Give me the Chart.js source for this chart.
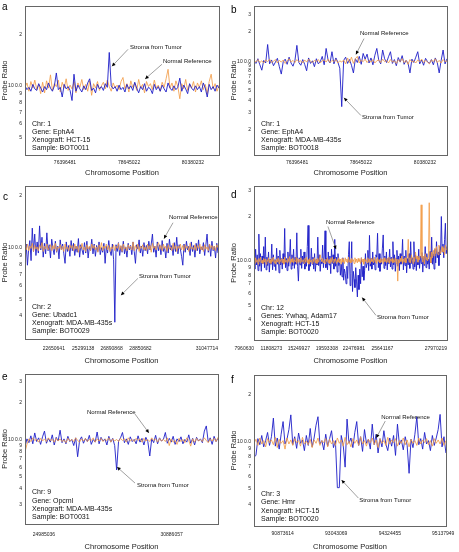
<!DOCTYPE html>
<html>
<head>
<meta charset="utf-8">
<script src="https://cdn.jsdelivr.net/npm/chart.js@4.4.1/dist/chart.umd.min.js"></script>
<style>
  body { margin: 0; background: #fff; }
  .panel { position: absolute; }
</style>
</head>
<body>
<div class="panel" style="left:0;top:0"><canvas id="chartA" width="229" height="180"></canvas></div>
<div class="panel" style="left:229px;top:0"><canvas id="chartB" width="230" height="180"></canvas></div>
<div class="panel" style="left:0;top:180px"><canvas id="chartC" width="229" height="185"></canvas></div>
<div class="panel" style="left:229px;top:180px"><canvas id="chartD" width="230" height="185"></canvas></div>
<div class="panel" style="left:0;top:365px"><canvas id="chartE" width="229" height="187"></canvas></div>
<div class="panel" style="left:229px;top:365px"><canvas id="chartF" width="230" height="187"></canvas></div>
<script>
// probe ratios, tumour (blue) and normal reference (orange), one value per probe
const tumorA = [
  1.00,0.95,0.98,0.93,1.02,0.96,0.94,1.03,0.97,0.92, 0.99,0.95,1.04,0.97,0.93,1.00,1.19,0.95,0.98,0.86,
  1.02,0.96,0.99,0.94,0.82,1.17,0.93,1.01,0.96,0.92, 1.00,0.95,1.04,1.10,0.94,0.97,0.91,1.02,0.96,0.99,
  0.94,1.03,0.98,1.57,1.00,0.96,0.99,0.93,1.01,0.95, 0.98,0.92,1.02,0.96,1.00,0.94,1.05,0.97,0.91,0.99,
  0.95,1.03,0.93,0.98,0.96,0.90,1.02,0.95,0.99,0.93, 1.01,0.96,0.92,1.04,0.97,0.94,1.00,0.95,0.98,1.11,
  0.93,1.01,0.96,0.90,1.03,0.97,0.94,1.00,0.95,0.99, 0.92,1.04,0.97,0.86,1.02,0.95,0.99,0.93,1.01,0.97
];
const normalA = [
  0.98,1.04,0.93,1.06,0.97,1.08,0.95,1.02,0.90,1.05, 0.91,1.07,0.97,1.16,0.94,1.03,0.99,1.08,0.92,1.05,
  0.97,1.10,0.94,1.01,0.96,1.06,0.91,1.04,0.98,1.09, 0.95,1.02,0.93,1.07,0.88,1.03,0.97,1.06,0.94,1.00,
  1.05,0.96,1.08,0.99,0.93,1.04,0.97,1.01,0.95,1.06, 1.12,0.96,1.03,0.92,1.07,0.98,1.04,0.94,1.09,0.97,
  1.02,0.91,1.06,0.99,1.03,0.95,1.08,0.97,1.01,0.93, 1.05,0.98,1.10,1.25,0.97,1.04,0.93,1.07,0.99,0.84,
  1.03,0.96,1.09,0.94,1.02,0.97,1.06,0.92,1.04,0.98, 1.07,0.95,1.02,0.90,1.06,1.17,0.96,1.03,0.93,1.01
];
const tumorB = [
  1.00,0.95,1.06,0.92,0.81,1.02,0.96,1.48,0.94,1.03, 0.90,0.98,1.07,0.88,0.74,0.99,1.05,0.93,1.10,0.96,
  0.89,1.02,1.45,0.97,0.91,1.04,0.93,0.80,1.08,0.95, 1.01,0.88,1.06,0.94,0.99,1.12,0.92,1.35,1.03,0.96,
  1.25,0.94,1.08,0.98,0.85,0.345,1.02,1.10,0.95,1.04, 0.91,0.76,1.06,0.97,1.12,0.93,1.20,1.05,1.18,0.96,
  1.08,0.92,1.15,1.35,1.02,0.94,1.30,1.06,0.97,1.11, 1.25,0.95,1.04,0.90,1.09,0.98,1.14,0.93,1.02,0.96,
  0.76,1.05,0.97,1.10,1.25,0.94,1.03,0.91,1.07,0.99, 0.95,1.04,0.92,1.08,0.97,0.76,1.02,1.30,0.94,1.06
];
const normalB = [
  1.02,0.98,1.04,0.97,1.01,0.96,1.03,0.99,1.05,0.97, 1.00,1.04,0.96,1.02,0.98,1.03,0.95,1.01,1.06,0.98,
  1.02,0.97,1.04,0.99,1.01,0.96,1.03,0.98,1.05,1.00, 0.97,1.02,0.99,1.04,0.96,1.01,1.03,0.98,1.05,0.97,
  1.02,0.99,1.04,0.96,1.01,0.98,1.03,0.94,1.08,0.97, 1.10,0.95,1.06,1.12,0.96,1.03,0.99,1.05,0.97,1.02,
  0.98,1.04,0.96,1.01,1.03,0.97,1.05,0.99,1.02,0.96, 1.04,0.98,1.01,0.95,1.03,0.99,1.06,0.97,1.02,0.93,
  1.04,0.98,1.01,0.96,1.03,0.99,1.05,0.97,1.02,0.98, 0.94,1.03,0.99,1.06,0.97,1.02,0.96,1.04,0.99,1.01
];
const tumorC = [
  0.82,1.05,0.79,0.98,1.10,0.84,1.30,0.95,1.20,0.90, 1.08,0.93,1.34,0.97,1.15,0.88,1.06,0.92,1.22,0.96,
  1.04,0.87,1.12,0.99,0.91,1.09,0.94,1.02,0.86,1.11, 0.97,1.05,0.92,0.81,1.08,0.95,1.03,0.89,1.10,0.96,
  1.06,0.90,1.02,0.94,1.13,0.88,1.04,0.97,0.91,1.07, 0.93,1.09,0.87,1.01,0.96,1.12,0.92,1.05,0.89,1.03,
  0.95,1.08,0.91,1.00,0.94,1.06,0.81,1.02,0.93,1.10, 0.96,0.90,1.05,0.85,0.367,1.04,0.95,1.07,0.90,1.02,
  0.94,1.09,0.92,1.01,0.88,1.06,0.97,1.03,0.91,1.08, 0.95,0.81,1.04,0.98,1.11,0.93,1.02,0.89,1.07,0.96,
  1.03,0.92,1.09,0.97,1.05,1.20,0.94,1.02,0.88,1.08, 0.96,1.04,0.91,1.10,0.95,1.01,0.87,1.06,0.93,1.12,
  0.97,1.03,0.90,1.07,0.95,1.15,0.92,1.04,0.98,0.89, 0.79,1.05,0.94,1.09,0.97,1.02,0.90,1.08,0.95,1.03,
  0.88,1.06,0.96,1.11,0.92,1.01,0.97,1.07,0.90,1.04, 1.20,0.94,1.05,0.89,1.09,0.96,1.02,0.87,1.06,0.93
];
const normalC = [
  1.03,0.97,1.05,0.96,1.02,0.99,1.06,0.95,1.03,0.98, 1.01,0.96,1.04,0.99,1.07,0.95,1.02,0.98,1.05,0.97,
  1.00,1.04,0.96,1.03,0.98,1.06,0.95,1.01,0.99,1.04, 0.97,1.02,0.95,1.05,0.98,1.01,0.96,1.04,0.99,1.03,
  0.96,1.05,0.98,1.02,0.94,1.03,0.99,1.06,0.97,1.01, 0.95,1.04,0.98,1.02,0.96,1.05,0.99,1.03,0.97,1.01,
  0.94,1.04,0.98,1.07,0.96,1.02,0.99,1.05,0.97,1.03, 0.95,1.01,0.98,1.04,0.96,1.02,0.99,1.06,0.97,1.03,
  0.95,1.05,0.98,1.01,0.96,1.04,0.99,1.02,0.97,1.08, 0.96,1.03,0.98,1.05,0.95,1.02,0.99,1.04,0.97,1.01,
  0.96,1.05,0.98,1.03,0.94,1.06,0.99,1.02,0.97,1.04, 1.07,0.98,1.03,0.96,1.05,0.99,1.02,0.95,1.04,0.98,
  1.01,0.96,1.06,0.98,1.03,0.95,1.02,0.99,1.05,0.97, 1.03,0.96,1.04,0.99,1.02,0.95,1.06,0.98,1.01,0.97,
  1.04,0.96,1.03,0.99,1.05,0.97,1.02,0.95,1.04,0.98, 1.01,0.96,1.05,0.99,1.03,0.97,1.02,0.96,1.04,1.00
];
const tumorD = [
  1.05,0.88,1.20,0.94,1.10,0.86,1.52,0.92,1.12,0.85, 1.08,0.96,1.25,0.90,1.45,0.87,1.06,0.93,1.15,0.84,
  1.03,0.95,1.30,0.87,1.10,0.92,1.02,0.86,1.22,0.95, 1.08,0.83,1.18,0.94,1.04,0.88,1.12,0.96,1.66,0.90,
  1.04,0.86,1.15,0.92,1.06,1.40,0.88,1.10,0.93,1.20, 0.89,1.06,0.95,1.55,0.92,0.73,1.05,0.94,1.20,0.89,
  1.08,0.96,1.15,0.88,1.03,0.92,1.25,1.74,0.86,1.03, 0.92,1.22,0.95,1.06,0.88,1.12,0.85,1.02,0.94,1.45,
  0.93,1.10,0.85,1.02,0.96,1.28,0.90,1.08,1.60,0.90, 1.04,0.87,1.15,0.94,1.08,0.82,1.20,0.96,1.10,0.88,
  1.40,0.92,1.06,0.84,1.12,0.93,1.02,0.80,0.95,0.78, 1.05,0.74,0.88,0.82,0.70,0.92,0.76,1.10,1.35,0.68,
  0.82,1.35,0.62,0.85,0.75,0.66,0.90,0.72,0.57,0.80, 0.64,0.88,0.70,1.05,0.78,0.92,0.74,0.86,1.12,0.90,
  0.96,1.18,0.86,1.49,0.92,1.04,0.88,1.15,0.94,1.02, 0.87,1.10,1.06,1.54,0.90,1.12,0.85,1.03,0.95,1.22,
  1.50,0.89,1.08,0.93,1.15,0.87,1.04,0.96,1.20,0.91, 1.06,0.88,1.35,0.94,1.10,0.85,1.03,1.18,0.92,1.08,
  0.86,1.12,0.95,1.04,1.40,0.87,1.08,0.93,1.18,0.83, 1.04,0.94,1.12,0.89,1.35,0.96,1.05,0.88,1.35,0.91,
  1.10,0.86,1.05,0.94,1.20,0.89,1.08,0.96,1.14,0.84, 1.06,0.93,1.25,0.90,1.12,0.95,1.03,0.88,1.16,0.97,
  1.45,0.95,1.12,0.88,1.20,0.97,1.35,1.05,1.15,0.93, 1.25,1.10,2.00,1.15,1.30,1.05,1.40,1.80,1.12,1.25
];
const normalD = [
  1.03,0.96,1.05,0.98,1.02,0.95,1.04,0.99,1.06,0.97, 1.01,0.96,1.04,0.98,1.03,0.95,1.02,0.99,1.05,0.97,
  1.02,0.96,1.04,0.99,1.06,0.97,1.01,0.95,1.03,0.98, 1.05,0.96,1.02,0.99,1.04,0.97,1.03,0.95,1.06,0.98,
  1.01,0.97,1.04,0.99,1.07,0.96,1.03,0.98,1.05,0.97, 1.02,0.99,1.06,0.96,1.04,0.98,1.03,0.97,1.05,0.99,
  0.99,1.02,0.96,1.04,0.98,1.06,0.97,1.02,0.95,1.04, 0.98,1.01,0.96,1.03,0.99,1.05,0.97,1.02,0.96,1.04,
  0.98,1.03,1.10,1.02,0.99,1.04,0.97,1.01,0.96,1.03, 0.99,1.05,0.97,1.02,0.96,1.04,0.98,1.06,0.97,1.03,
  0.99,1.04,0.96,1.02,0.98,1.05,0.97,1.03,0.95,1.04, 0.98,1.02,0.96,1.05,0.99,1.03,0.97,1.06,0.98,1.02,
  0.97,1.04,0.99,1.02,0.96,1.05,0.98,1.03,0.97,1.04, 0.99,1.02,0.96,1.05,0.98,1.03,0.95,1.04,0.99,1.02,
  0.97,1.05,0.98,1.03,0.96,1.04,0.99,1.02,0.97,1.06, 0.98,1.03,0.96,1.05,0.99,1.02,0.97,1.04,0.98,1.03,
  0.96,1.05,0.99,1.02,0.97,1.04,0.98,1.06,0.96,1.03, 0.99,1.04,0.97,1.02,0.98,1.05,0.96,1.03,0.73,1.02,
  0.97,1.04,0.99,1.08,0.96,1.03,0.98,1.05,0.97,1.02, 1.06,1.40,0.98,1.05,0.97,1.10,1.02,0.96,1.06,0.99,
  1.15,1.03,1.08,0.98,1.05,1.02,1.10,2.40,1.05,0.98, 1.08,0.95,1.12,1.02,1.06,1.00,1.04,2.48,1.06,0.97,
  1.15,1.05,1.18,1.08,1.22,1.12,1.25,1.15,1.10,1.28, 1.20,1.12,1.18,1.25,1.15,1.22,1.10,1.28,1.20,1.18
];
const tumorE = [
  0.88,1.02,0.95,1.08,0.93,1.14,0.97,1.04,0.92,1.06, 1.18,0.94,1.03,0.96,1.10,0.91,1.05,0.98,1.20,0.95,
  1.02,0.93,1.07,0.97,1.01,0.90,1.04,0.73,0.99,1.06, 0.94,1.03,0.97,1.09,0.92,1.01,0.96,1.16,0.93,1.05,
  0.98,1.02,0.91,1.07,0.96,1.03,0.90,0.57,0.98,1.04, 1.15,0.95,1.02,0.92,1.06,0.97,1.01,0.93,1.08,0.96,
  1.03,0.91,1.05,0.97,0.74,1.02,0.95,1.09,0.93,1.04, 0.98,1.01,1.15,0.94,1.03,0.96,1.07,0.92,1.02,0.97,
  1.06,0.93,1.01,0.96,1.10,0.94,1.03,0.91,1.05,0.98, 1.02,0.95,1.18,1.30,0.96,1.04,0.92,1.07,0.97,1.03
];
const normalE = [
  0.80,0.92,1.02,0.97,1.04,0.99,1.01,0.96,1.03,0.98, 1.02,0.97,1.04,0.99,1.01,0.96,1.03,0.98,1.02,0.97,
  1.00,0.95,1.03,0.98,1.01,0.97,1.04,0.99,0.96,1.02, 0.98,1.03,0.97,1.01,0.99,1.04,0.96,1.02,0.98,1.03,
  0.97,1.01,0.99,1.04,0.96,1.02,0.98,1.01,0.97,1.03, 0.99,1.02,0.96,1.04,0.98,1.01,0.97,1.03,0.99,1.02,
  0.96,1.03,0.98,1.01,0.97,1.04,0.99,1.02,0.96,1.03, 0.98,1.01,0.97,1.04,0.90,1.02,0.96,0.99,0.92,1.03,
  0.97,1.01,0.95,1.04,0.99,0.89,1.02,0.96,1.03,0.98, 1.01,0.97,1.04,0.99,0.95,1.02,0.98,1.03,0.97,1.05
];
const tumorF = [
  0.80,0.82,1.05,0.96,1.10,0.93,1.02,1.15,0.95,1.08, 1.42,0.94,1.06,0.90,1.12,1.35,0.97,1.04,1.20,1.49,
  0.96,1.08,0.91,1.14,0.98,1.03,0.88,1.10,0.95,1.22, 0.93,1.06,1.28,1.45,0.97,1.02,0.89,1.12,0.94,1.05,
  1.18,0.92,1.02,0.51,0.51,1.10,0.96,0.69,1.40,0.98, 1.06,0.92,1.15,1.35,0.95,1.08,0.87,1.20,0.98,1.04,
  0.90,1.30,0.96,1.12,0.85,1.05,0.93,1.18,0.97,0.88, 1.06,0.94,1.10,0.82,1.30,0.96,1.03,0.89,1.08,0.95,
  0.63,1.04,0.92,1.12,1.45,0.96,1.05,0.90,1.15,0.97, 1.02,0.88,1.10,0.95,1.06,1.20,1.50,0.93,1.08,0.85
];
const normalF = [
  0.98,1.04,0.95,1.06,0.97,1.02,0.93,1.05,0.99,1.03, 0.96,1.07,0.92,1.04,0.98,1.02,0.90,1.06,0.97,1.03,
  0.95,1.05,0.99,1.02,0.94,1.07,0.97,1.01,0.96,1.04, 0.92,1.03,0.98,1.06,0.95,1.02,0.99,1.05,0.93,1.04,
  0.97,1.02,0.95,1.06,0.98,1.03,0.94,1.07,0.96,1.01, 0.93,1.05,0.98,1.03,0.95,1.08,0.97,1.02,0.94,1.04,
  0.99,1.06,0.96,1.03,0.92,1.05,0.98,1.02,0.95,1.07, 0.97,1.03,0.99,1.05,0.94,1.02,0.98,1.06,0.96,1.03,
  0.93,1.04,0.98,1.02,0.95,1.06,0.97,1.03,0.99,1.05, 0.96,1.02,0.94,1.05,0.98,1.03,0.97,1.06,0.95,1.02
];

// x tick positions (probe index) and their chromosome position labels
const xTicksA = [20.4, 53.1, 85.7];
const xLabelsA = ["76396481", "78645022", "80380232"];
const xTicksB = [22.1, 54.8, 87.7];
const xLabelsB = ["76396481", "78645022", "80380232"];
const xTicksC = [32.9, 57.1, 80.5, 104.3, 159];
const xLabelsC = ["22650641", "25299138", "26890868", "28850682", "31047714"];
const xTicksD = [0, 35.1, 69.3, 104, 137.4, 172.6, 239];
const xLabelsD = ["7960630", "11808273", "15249927", "19593308", "22476981", "25641167", "27970219"];
const xTicksE = [9.7, 75.2];
const xLabelsE = ["24985036", "30886057"];
const xTicksF = [14.8, 42.4, 70.1, 97.6];
const xLabelsF = ["90873614", "93043069", "94324455", "95137949"];

// y ticks (probe ratio, log axis)
const yTicksA = [0.5, 0.6, 0.7, 0.8, 0.9, 1, 2];
const yTicksB = [0.2, 0.3, 0.4, 0.5, 0.6, 0.7, 0.8, 0.9, 1, 2, 3];
const yTicksC = [0.4, 0.5, 0.6, 0.7, 0.8, 0.9, 1, 2];
const yTicksD = [0.4, 0.5, 0.6, 0.7, 0.8, 0.9, 1, 2, 3];
const yTicksE = [0.3, 0.4, 0.5, 0.6, 0.7, 0.8, 0.9, 1, 2, 3];
const yTicksF = [0.4, 0.5, 0.6, 0.7, 0.8, 0.9, 1, 2];

const infoA = ["Chr: 1", "Gene: EphA4", "Xenograft: HCT-15", "Sample: BOT0011"];
const infoB = ["Chr: 1", "Gene: EphA4", "Xenograft: MDA-MB-435s", "Sample: BOT0018"];
const infoC = ["Chr: 2", "Gene: Ubadc1", "Xenograft: MDA-MB-435s", "Sample: BOT0029"];
const infoD = ["Chr: 12", "Genes: Ywhaq, Adam17", "Xenograft: HCT-15", "Sample: BOT0020"];
const infoE = ["Chr: 9", "Gene: Opcml", "Xenograft: MDA-MB-435s", "Sample: BOT0031"];
const infoF = ["Chr: 3", "Gene: Hmr", "Xenograft: HCT-15", "Sample: BOT0020"];

const FONT = "'Liberation Sans', Arial, sans-serif";
const BLUE = "rgba(30, 30, 200, 0.9)";
const ORANGE = "rgba(242, 155, 70, 0.82)";

// annotations: label position + arrow, as fractions of the plot box
const panels = [
  { id: "chartA", letter: "a", lx: 2, ly: 10, tumor: tumorA, normal: normalA, blueTop: true,
    yMin: 0.393, yMax: 2.94, yTicks: yTicksA, xTicks: xTicksA, xLabels: xLabelsA, xAlign: "center",
    pad: { top: 4, right: 10 }, xHeight: 25, xTickPad: 5, titlePad: 2.5, info: infoA,
    notes: [
      { text: "Stroma from Tumor", tx: 0.541, ty: 0.278, x1: 0.531, y1: 0.291, x2: 0.448, y2: 0.405 },
      { text: "Normal Reference", tx: 0.711, ty: 0.371, x1: 0.706, y1: 0.391, x2: 0.619, y2: 0.49 },
    ] },
  { id: "chartB", letter: "b", lx: 2, ly: 13, tumor: tumorB, normal: normalB, blueTop: false,
    yMin: 0.111, yMax: 3.65, yTicks: yTicksB, xTicks: xTicksB, xLabels: xLabelsB, xAlign: "center",
    pad: { top: 4, right: 12 }, xHeight: 25, xTickPad: 5, titlePad: 2.5, info: infoB,
    notes: [
      { text: "Normal Reference", tx: 0.549, ty: 0.185, x1: 0.570, y1: 0.219, x2: 0.528, y2: 0.325 },
      { text: "Stroma from Tumor", tx: 0.56, ty: 0.748, x1: 0.554, y1: 0.735, x2: 0.466, y2: 0.616 },
    ] },
  { id: "chartC", letter: "c", lx: 3, ly: 20, tumor: tumorC, normal: normalC, blueTop: false,
    yMin: 0.293, yMax: 2.29, yTicks: yTicksC, xTicks: xTicksC, xLabels: xLabelsC, xAlign: "end",
    pad: { top: 5, right: 11 }, xHeight: 26, xTickPad: 6.5, titlePad: -0.5, info: infoC,
    notes: [
      { text: "Normal Reference", tx: 0.746, ty: 0.208, x1: 0.767, y1: 0.24, x2: 0.72, y2: 0.344 },
      { text: "Stroma from Tumor", tx: 0.591, ty: 0.591, x1: 0.585, y1: 0.604, x2: 0.497, y2: 0.714 },
    ] },
  { id: "chartD", letter: "d", lx: 2, ly: 18, tumor: tumorD, normal: normalD, blueTop: false,
    yMin: 0.291, yMax: 3.22, yTicks: yTicksD, xTicks: xTicksD, xLabels: xLabelsD, xAlign: "end",
    pad: { top: 4, right: 12 }, xHeight: 25, xTickPad: 5.5, titlePad: -0.5, info: infoD,
    notes: [
      { text: "Normal Reference", tx: 0.373, ty: 0.237, x1: 0.383, y1: 0.263, x2: 0.425, y2: 0.41 },
      { text: "Stroma from Tumor", tx: 0.637, ty: 0.853, x1: 0.632, y1: 0.84, x2: 0.56, y2: 0.724 },
    ] },
  { id: "chartE", letter: "e", lx: 2, ly: 15, tumor: tumorE, normal: normalE, blueTop: false,
    yMin: 0.207, yMax: 3.44, yTicks: yTicksE, xTicks: xTicksE, xLabels: xLabelsE, xAlign: "center",
    pad: { top: 9, right: 11 }, xHeight: 28, xTickPad: 7.5, titlePad: 0.5, info: infoE,
    notes: [
      { text: "Normal Reference", tx: 0.321, ty: 0.253, x1: 0.57, y1: 0.267, x2: 0.642, y2: 0.393 },
      { text: "Stroma from Tumor", tx: 0.58, ty: 0.74, x1: 0.57, y1: 0.727, x2: 0.477, y2: 0.62 },
    ] },
  { id: "chartF", letter: "f", lx: 2, ly: 18, tumor: tumorF, normal: normalF, blueTop: false,
    yMin: 0.29, yMax: 2.68, yTicks: yTicksF, xTicks: xTicksF, xLabels: xLabelsF, xAlign: "center",
    pad: { top: 10, right: 12 }, xHeight: 26, xTickPad: 4.5, titlePad: 0.5, info: infoF,
    notes: [
      { text: "Normal Reference", tx: 0.663, ty: 0.278, x1: 0.684, y1: 0.305, x2: 0.637, y2: 0.417 },
      { text: "Stroma from Tumor", tx: 0.549, ty: 0.828, x1: 0.544, y1: 0.815, x2: 0.456, y2: 0.695 },
    ] },
];

function ratioLabel(v) {
  if (v === 1) return "10 0.0";
  if (v < 1) return String(Math.round(v * 10));
  return String(v);
}

// box, panel letter, sample info and arrows
const decorations = {
  id: "decorations",
  afterDraw(chart) {
    const p = chart.options.plugins.decorations;
    const { ctx, chartArea: a } = chart;
    ctx.save();
    ctx.strokeStyle = "#666";
    ctx.lineWidth = 1;
    ctx.strokeRect(Math.round(a.left) + 0.5, Math.round(a.top) + 0.5, Math.round(a.width), Math.round(a.height));

    ctx.fillStyle = "#000";
    ctx.font = "10px " + FONT;
    ctx.textBaseline = "alphabetic";
    ctx.fillText(p.letter, p.lx, p.ly);

    ctx.font = "7px " + FONT;
    ctx.fillStyle = "#111";
    ctx.textBaseline = "middle";
    p.info.forEach((t, i) => ctx.fillText(t, a.left + 7, a.top + a.height * 0.79 + i * 8.2));

    ctx.font = "6px " + FONT;
    p.notes.forEach((n) => {
      ctx.fillStyle = "#111";
      ctx.fillText(n.text, a.left + n.tx * a.width, a.top + n.ty * a.height);
      const x1 = a.left + n.x1 * a.width, y1 = a.top + n.y1 * a.height;
      const x2 = a.left + n.x2 * a.width, y2 = a.top + n.y2 * a.height;
      ctx.strokeStyle = "#888";
      ctx.lineWidth = 0.8;
      ctx.beginPath();
      ctx.moveTo(x1, y1);
      ctx.lineTo(x2, y2);
      ctx.stroke();
      const ang = Math.atan2(y2 - y1, x2 - x1);
      ctx.fillStyle = "#000";
      ctx.beginPath();
      ctx.moveTo(x2, y2);
      ctx.lineTo(x2 - 4 * Math.cos(ang - 0.45), y2 - 4 * Math.sin(ang - 0.45));
      ctx.lineTo(x2 - 4 * Math.cos(ang + 0.45), y2 - 4 * Math.sin(ang + 0.45));
      ctx.closePath();
      ctx.fill();
    });
    ctx.restore();
  },
};

panels.forEach((p) => {
  const tumorSet = {
    label: "Stroma from Tumor",
    data: p.tumor.map((v, i) => ({ x: i, y: v })),
    borderColor: BLUE,
    borderWidth: 1,
  };
  const normalSet = {
    label: "Normal Reference",
    data: p.normal.map((v, i) => ({ x: i, y: v })),
    borderColor: ORANGE,
    borderWidth: 1,
  };
  const canvas = document.getElementById(p.id);
  new Chart(canvas.getContext("2d"), {
    type: "line",
    data: { datasets: p.blueTop ? [tumorSet, normalSet] : [normalSet, tumorSet] },
    options: {
      responsive: false,
      animation: false,
      events: [],
      layout: { padding: { top: p.pad.top, right: p.pad.right, left: 0, bottom: 0 } },
      elements: { point: { radius: 0 }, line: { tension: 0 } },
      scales: {
        x: {
          type: "linear",
          min: 0,
          max: p.tumor.length - 1,
          grid: { display: false, drawTicks: false },
          border: { display: false },
          afterBuildTicks: (s) => { s.ticks = p.xTicks.map((v) => ({ value: v })); },
          afterFit: (s) => { s.height = p.xHeight; },
          ticks: {
            autoSkip: false,
            maxRotation: 0,
            align: p.xAlign,
            padding: p.xTickPad,
            color: "#222",
            font: { family: FONT, size: 5 },
            callback: (v) => p.xLabels[p.xTicks.indexOf(v)],
          },
          title: {
            display: true,
            text: "Chromosome Position",
            color: "#222",
            font: { family: FONT, size: 7.5 },
            padding: { top: 0, bottom: p.titlePad },
          },
        },
        y: {
          type: "logarithmic",
          min: p.yMin,
          max: p.yMax,
          grid: { display: false, drawTicks: false },
          border: { display: false },
          afterBuildTicks: (s) => { s.ticks = p.yTicks.map((v) => ({ value: v })); },
          afterFit: (s) => { s.width = 25; },
          ticks: {
            autoSkip: false,
            padding: 3,
            color: "#222",
            font: { family: FONT, size: 5 },
            callback: (v) => ratioLabel(v),
          },
          title: {
            display: true,
            text: "Probe Ratio",
            color: "#222",
            font: { family: FONT, size: 7.5 },
            padding: 0,
          },
        },
      },
      plugins: {
        legend: { display: false },
        tooltip: { enabled: false },
        decorations: { letter: p.letter, lx: p.lx, ly: p.ly, info: p.info, notes: p.notes },
      },
    },
    plugins: [decorations],
  });
});
</script>
</body>
</html>
